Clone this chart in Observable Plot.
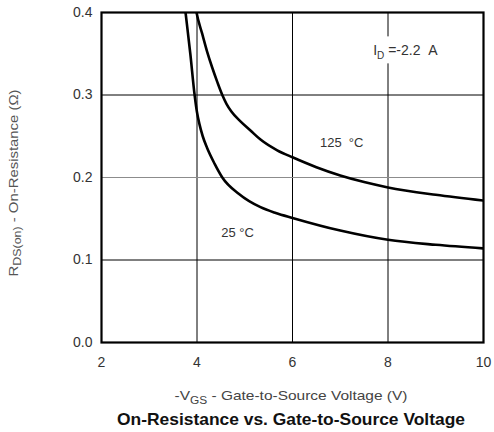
<!DOCTYPE html>
<html>
<head>
<meta charset="utf-8">
<script src="https://cdn.jsdelivr.net/npm/d3@7"></script>
<script src="https://cdn.jsdelivr.net/npm/@observablehq/plot@0.6"></script>
<style>
  html, body { margin: 0; padding: 0; background: #fff; }
  #chart svg { display: block; }
</style>
</head>
<body>
<div id="chart"></div>
<script>
// Gate-source voltage (V) and on-resistance (ohm) for the two junction temperatures
const vgs25  = [3.74, 3.76, 3.86, 3.95, 4.00, 4.05, 4.12, 4.21, 4.37, 4.53, 4.88, 5.33, 5.65, 6.0, 7.0, 8.0, 9.0, 10.0];
const rds25  = [0.41, 0.40, 0.35, 0.30, 0.279, 0.265, 0.250, 0.236, 0.2165, 0.200, 0.180, 0.164, 0.157, 0.151, 0.1357, 0.1245, 0.1184, 0.114];
const vgs125 = [3.96, 3.99, 4.11, 4.21, 4.32, 4.43, 4.53, 4.62, 4.72, 4.91, 5.12, 5.33, 5.68, 6.0, 6.5, 7.0, 7.5, 8.0, 9.0, 10.0];
const rds125 = [0.41, 0.40, 0.374, 0.353, 0.333, 0.315, 0.300, 0.289, 0.280, 0.268, 0.257, 0.246, 0.233, 0.2245, 0.2125, 0.2025, 0.1945, 0.188, 0.179, 0.172];

const xTicks = [2, 4, 6, 8, 10];
const yTicks = [0.0, 0.1, 0.2, 0.3, 0.4];
const yGridDark = [0.1, 0.3];
const yGridLight = [0.2];

// curve labels placed in data coordinates
const curveLabels = [
  {text: "125\u00a0\u00a0°C", v: 7.03, r: 0.2426},
  {text: "25\u00a0°C", v: 4.85, r: 0.1325}
];
const currentLabel = {v: 7.70, r: 0.3535};

const series = [
  ...vgs25.map((v, i) => ({v, r: rds25[i], t: "25"})),
  ...vgs125.map((v, i) => ({v, r: rds125[i], t: "125"}))
];

const font = "'Liberation Sans', Arial, Helvetica, sans-serif";

const plot = Plot.plot({
  width: 494,
  height: 432,
  marginLeft: 101,
  marginRight: 11,
  marginTop: 12,
  marginBottom: 90,
  style: {fontFamily: font, background: "#fff", color: "#333"},
  x: {domain: [2, 10]},
  y: {domain: [0, 0.4]},
  marks: [
    Plot.ruleX(xTicks.slice(1, -1), {stroke: "#000", strokeWidth: 1}),
    Plot.ruleY(yGridDark, {stroke: "#000", strokeWidth: 1}),
    Plot.ruleY(yGridLight, {stroke: "#8c8c8c", strokeWidth: 1}),
    Plot.text(curveLabels, {x: "v", y: "r", text: "text", fontSize: 13, fill: "#333"}),
    Plot.line(series, {x: "v", y: "r", z: "t", stroke: "#000", strokeWidth: 2.6, curve: "monotone-x", clip: true}),
    Plot.frame({stroke: "#000", strokeWidth: 2.2}),
    Plot.axisX({ticks: xTicks, tickSize: 0, tickPadding: 15, fontSize: 14, label: null, tickFormat: d3.format("d")}),
    Plot.axisY({ticks: yTicks, tickSize: 0, tickPadding: 9, fontSize: 14, label: null, tickFormat: d3.format(".1f")})
  ]
});

document.getElementById("chart").appendChild(plot);

const svg = d3.select(plot);
const sx = plot.scale("x"), sy = plot.scale("y");

// current annotation with subscript, on a white patch that breaks the grid line
const ix = sx.apply(currentLabel.v), iy = sy.apply(currentLabel.r);
svg.append("rect")
  .attr("x", ix - 4).attr("y", iy - 14).attr("width", 76).attr("height", 27)
  .attr("fill", "#fff");
const idText = svg.append("text")
  .attr("x", ix).attr("y", iy + 5)
  .attr("text-anchor", "start")
  .attr("font-family", font).attr("font-size", 14).attr("fill", "#333");
idText.append("tspan").text("I");
idText.append("tspan").attr("font-size", 10).attr("dy", 4).text("D");
idText.append("tspan").attr("dy", -4).text("\u00a0=-2.2\u00a0\u00a0A");

// y-axis title
const yTitle = svg.append("text")
  .attr("transform", `translate(18, 183) rotate(-90)`)
  .attr("text-anchor", "middle")
  .attr("textLength", 187).attr("lengthAdjust", "spacingAndGlyphs")
  .attr("font-family", font).attr("font-size", 12).attr("fill", "#555");
yTitle.append("tspan").text("R");
yTitle.append("tspan").attr("font-size", 10).attr("dy", 3).text("DS(on)");
yTitle.append("tspan").attr("dy", -3).text(" - On-Resistance (Ω)");

// x-axis title
const xTitle = svg.append("text")
  .attr("x", 291).attr("y", 400)
  .attr("text-anchor", "middle")
  .attr("textLength", 233).attr("lengthAdjust", "spacingAndGlyphs")
  .attr("font-family", font).attr("font-size", 13).attr("fill", "#444");
xTitle.append("tspan").text("-V");
xTitle.append("tspan").attr("font-size", 10).attr("dy", 4).text("GS");
xTitle.append("tspan").attr("dy", -4).text(" - Gate-to-Source Voltage (V)");

// chart title
svg.append("text")
  .attr("x", 291).attr("y", 425)
  .attr("text-anchor", "middle")
  .attr("font-family", font).attr("font-size", 16.5).attr("font-weight", "bold")
  .attr("fill", "#111")
  .attr("textLength", 348).attr("lengthAdjust", "spacingAndGlyphs")
  .text("On-Resistance vs. Gate-to-Source Voltage");
</script>
</body>
</html>
